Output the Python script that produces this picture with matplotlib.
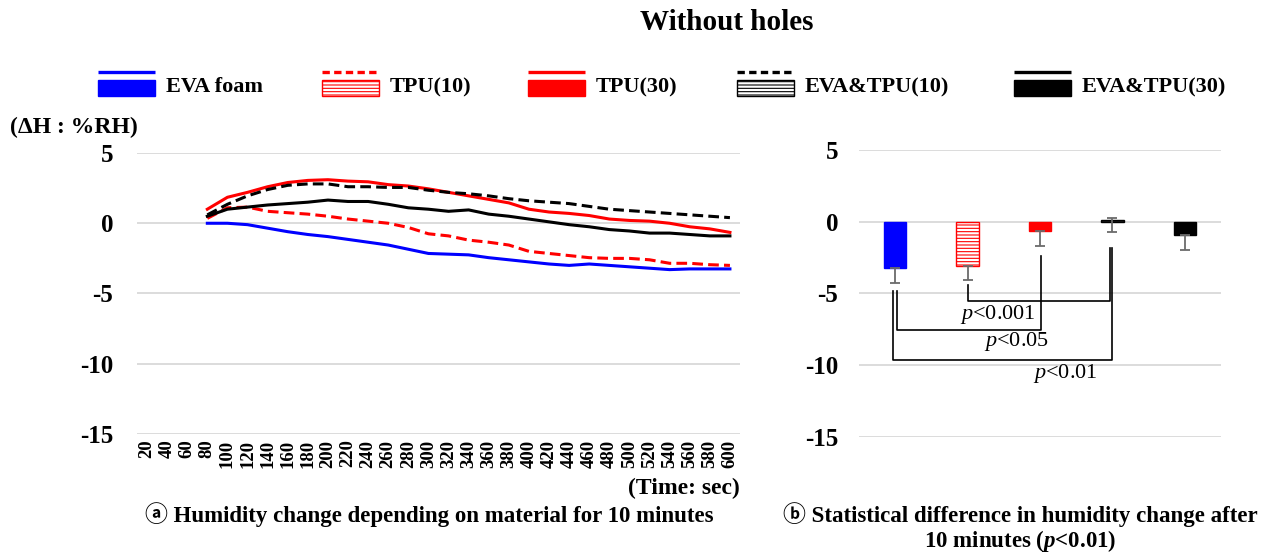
import numpy as np
import matplotlib.pyplot as plt
from matplotlib.patches import Rectangle

plt.rcParams['font.family'] = ['Liberation Serif', 'Noto Sans CJK SC', 'DejaVu Sans']
plt.rcParams['mathtext.fontset'] = 'custom'
plt.rcParams['mathtext.rm'] = 'Liberation Serif'
plt.rcParams['mathtext.it'] = 'Liberation Serif:italic'
plt.rcParams['mathtext.bfit'] = 'Liberation Serif:italic:bold'
plt.rcParams['hatch.linewidth'] = 0.8
plt.rcParams['axes.unicode_minus'] = False

# time axis (sec) and humidity change per material
times = list(range(20, 601, 20))
nan = np.nan
eva_foam = [nan, nan, nan, 0.0, 0.0, -0.1, -0.35, -0.6, -0.8, -0.95, -1.15, -1.35, -1.55,
            -1.85, -2.15, -2.2, -2.25, -2.45, -2.6, -2.75, -2.9, -3.0, -2.9,
            -3.0, -3.1, -3.2, -3.3, -3.25, -3.25, -3.25]
tpu10 = [nan, nan, nan, 0.35, 1.1, 1.15, 0.85, 0.75, 0.65, 0.5, 0.3, 0.15, 0.0,
         -0.3, -0.75, -0.9, -1.2, -1.35, -1.55, -2.0, -2.15, -2.3, -2.45,
         -2.5, -2.5, -2.6, -2.85, -2.85, -2.95, -3.0]
tpu30 = [nan, nan, nan, 1.0, 1.85, 2.2, 2.6, 2.9, 3.05, 3.1, 3.0, 2.95, 2.75,
         2.65, 2.45, 2.2, 1.95, 1.7, 1.45, 1.0, 0.8, 0.7, 0.55,
         0.3, 0.2, 0.15, 0.0, -0.25, -0.4, -0.65]
eva_tpu10 = [nan, nan, nan, 0.6, 1.35, 1.95, 2.4, 2.7, 2.8, 2.8, 2.6, 2.6, 2.55,
             2.55, 2.35, 2.2, 2.1, 1.95, 1.75, 1.6, 1.5, 1.4, 1.2,
             1.0, 0.9, 0.8, 0.7, 0.6, 0.5, 0.4]
eva_tpu30 = [nan, nan, nan, 0.5, 1.0, 1.15, 1.3, 1.4, 1.5, 1.65, 1.55, 1.55, 1.35,
             1.1, 1.0, 0.85, 0.95, 0.65, 0.5, 0.3, 0.1, -0.1, -0.25,
             -0.45, -0.55, -0.7, -0.7, -0.8, -0.9, -0.9]

# after 10 minutes: mean and error (down / up)
materials = ['EVA foam', 'TPU(10)', 'TPU(30)', 'EVA&TPU(10)', 'EVA&TPU(30)']
means = [-3.25, -3.05, -0.65, 0.1, -0.95]
err_low = [1.0, 1.0, 1.05, 0.8, 1.0]
err_up = [0.0, 0.0, 0.0, 0.15, 0.0]

# significance brackets: (left bar, right bar, left top, bottom, right top, label)
br_left = [1, 0, 0]
br_right = [3, 2, 3]
br_left_top = [-4.4, -4.8, -4.8]
br_bottom = [-5.5, -7.55, -9.6]
br_right_top = [-1.8, -2.4, -1.8]
br_labels = ['$p$<0.001', '$p$<0.05', '$p$<0.01']

blue = '#0000ff'
red = '#ff0000'
grid_c = '#d9d9d9'
dash = (0, (3.5, 1.7))

fig = plt.figure(figsize=(12.66, 5.52), dpi=100)

# ---- left: time series
ax1 = fig.add_axes([0.1082, 0.2138, 0.4763, 0.509])
x = np.arange(len(times))
ax1.plot(x, eva_foam, color=blue, lw=2.2)
ax1.plot(x, tpu10, color=red, lw=2.2, ls=dash)
ax1.plot(x, tpu30, color=red, lw=2.2)
ax1.plot(x, eva_tpu10, color='black', lw=2.2, ls=dash)
ax1.plot(x, eva_tpu30, color='black', lw=2.2)
ax1.set_xlim(-0.5, len(times) - 0.5)
ax1.set_ylim(-15, 5)
ax1.set_yticks([5, 0, -5, -10, -15])
ax1.set_xticks(x)
ax1.set_xticklabels([str(t) for t in times], rotation=90, fontsize=13.5, fontweight='bold')
ax1.tick_params(axis='x', length=0, pad=4)
ax1.tick_params(axis='y', length=0, pad=17, labelsize=18)
for lab in ax1.get_yticklabels():
    lab.set_fontweight('bold')
ax1.grid(axis='y', color=grid_c, lw=1.3)
ax1.set_axisbelow(True)
for s in ax1.spines.values():
    s.set_visible(False)

# ---- right: bars
ax2 = fig.add_axes([0.6785, 0.2083, 0.286, 0.52])
cats = np.arange(len(materials))
faces = [blue, 'white', red, 'white', 'black']
edges = [blue, red, red, 'black', 'black']
hatches = [None, '-----', None, '-----', None]
for i in cats:
    ax2.bar(cats[i], means[i], width=0.31, color=faces[i], edgecolor=edges[i],
            hatch=hatches[i], lw=1.0, zorder=2)
ax2.errorbar(cats, means, yerr=[err_low, err_up], fmt='none', ecolor='#6b6b6b',
             elinewidth=1.3, capsize=3.5, capthick=1.3, zorder=3)
for i in range(len(br_left)):
    xl = cats[br_left[i]] + [0, 0.03, -0.03][i]
    xr = cats[br_right[i]] + [-0.04, 0.01, 0.0][i]
    ax2.plot([xl, xl, xr, xr], [br_left_top[i], br_bottom[i], br_bottom[i], br_right_top[i]],
             color='black', lw=1.2, zorder=4)
ax2.text(1.42, -6.45, br_labels[0], fontsize=16, ha='center', va='center')
ax2.text(1.68, -8.35, br_labels[1], fontsize=16, ha='center', va='center')
ax2.text(2.35, -10.6, br_labels[2], fontsize=16, ha='center', va='center')
ax2.set_xlim(-0.5, len(materials) - 0.5)
ax2.set_ylim(-15, 5)
ax2.set_yticks([5, 0, -5, -10, -15])
ax2.set_xticks([])
ax2.tick_params(axis='y', length=0, pad=15, labelsize=18)
for lab in ax2.get_yticklabels():
    lab.set_fontweight('bold')
ax2.grid(axis='y', color=grid_c, lw=1.3)
ax2.set_axisbelow(True)
for s in ax2.spines.values():
    s.set_visible(False)

# ---- overlay in pixel coordinates: title, legend, captions
ov = fig.add_axes([0, 0, 1, 1], facecolor='none')
ov.set_xlim(0, 1266)
ov.set_ylim(552, 0)
ov.axis('off')

ov.text(727, 22, 'Without holes', fontsize=21, fontweight='bold', ha='center', va='center')

leg_x = [98, 322, 528, 737, 1014]
leg_w = 57
line_styles = ['-', (0, (2.2, 1.3)), '-', (0, (2.2, 1.3)), '-']
line_cols = [blue, red, red, 'black', 'black']
for i, name in enumerate(materials):
    x0 = leg_x[i]
    ov.plot([x0, x0 + leg_w], [72, 72], color=line_cols[i], lw=2.4, ls=line_styles[i],
            solid_capstyle='butt', dash_capstyle='butt')
    ov.add_patch(Rectangle((x0, 80), leg_w, 16, facecolor=faces[i], edgecolor=edges[i],
                           hatch=hatches[i], lw=1.0))
    ov.text(x0 + leg_w + 11, 87, name, fontsize=16, fontweight='bold', ha='left', va='center')

ov.text(10, 127, '(ΔH : %RH)', fontsize=17, fontweight='bold', ha='left', va='center')
ov.text(740, 488, '(Time: sec)', fontsize=17, fontweight='bold', ha='right', va='center')
ov.text(429, 515, 'ⓐ Humidity change depending on material for 10 minutes',
        fontsize=16.5, fontweight='bold', ha='center', va='center')
ov.text(1020, 515, 'ⓑ Statistical difference in humidity change after',
        fontsize=16.5, fontweight='bold', ha='center', va='center')
ov.text(1020, 541, '10 minutes ($\\mathbfit{p}$<0.01)',
        fontsize=16.5, fontweight='bold', ha='center', va='center')

fig.savefig('out.png', dpi=100)
